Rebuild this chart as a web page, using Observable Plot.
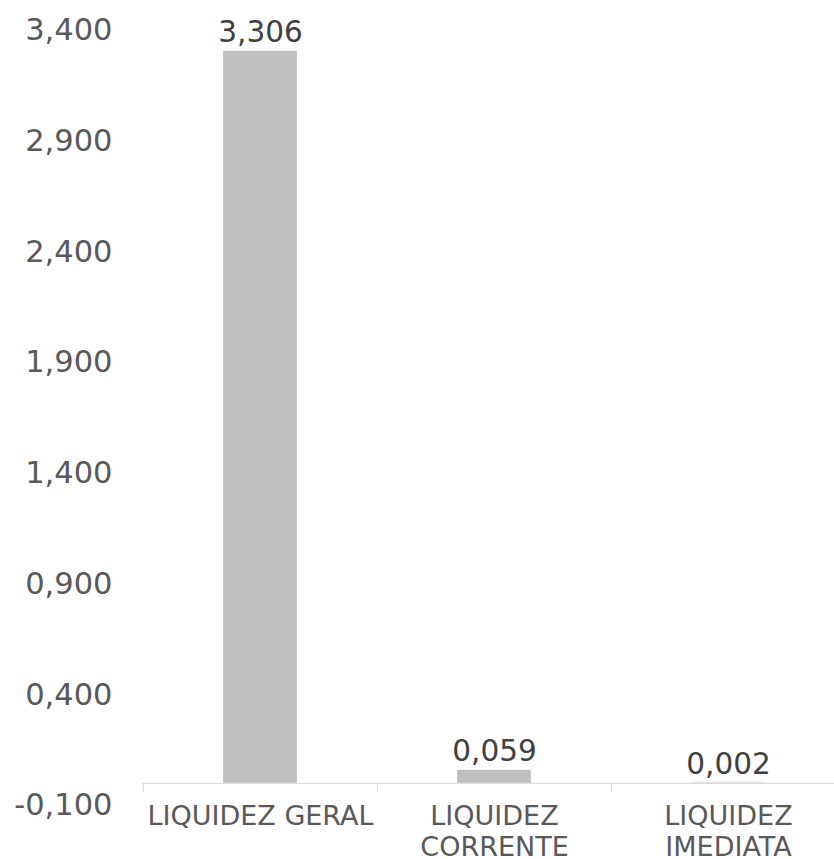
<!DOCTYPE html>
<html>
<head>
<meta charset="utf-8">
<script src="https://cdn.jsdelivr.net/npm/d3@7"></script>
<script src="https://cdn.jsdelivr.net/npm/@observablehq/plot@0.6"></script>
<style>
  html, body { margin: 0; padding: 0; background: #ffffff; }
</style>
</head>
<body>
<div id="chart"></div>
<script>
const categories = ["LIQUIDEZ GERAL", "LIQUIDEZ\nCORRENTE", "LIQUIDEZ\nIMEDIATA"];
const values = [3.306, 0.059, 0.002];
const yTicks = [-0.1, 0.4, 0.9, 1.4, 1.9, 2.4, 2.9, 3.4];

const data = categories.map((c, i) => ({cat: c, value: values[i]}));
const fmt = d3.formatLocale({decimal: ",", thousands: ".", grouping: [3], currency: ["", ""], minus: "-"}).format(".3f");

const W = 834, H = 859;
const xRange = [142, 845];
const band = (xRange[1] - xRange[0]) / categories.length;
const barW = 74;
const font = "'DejaVu Sans', sans-serif";

const chart = Plot.plot({
  width: W,
  height: H,
  marginLeft: 142,
  marginRight: 0,
  marginTop: 0,
  marginBottom: 76,
  style: {fontFamily: font, color: "#595959", background: "#ffffff"},
  x: {domain: categories, range: xRange, padding: 0, axis: null},
  y: {domain: [-0.1, 3.4], range: [805, 30], axis: null},
  marks: [
    Plot.barY(data, {x: "cat", y: "value", fill: "#bfbfbf", insetLeft: (band - barW) / 2, insetRight: (band - barW) / 2}),
    Plot.ruleY([0], {stroke: "#d9d9d9", strokeWidth: 1}),
    Plot.ruleX(categories, {x: d => d, y1: 0, y2: 0, insetBottom: -9, dx: -band / 2, stroke: "#d9d9d9", strokeWidth: 1}),
    Plot.axisY(yTicks, {tickSize: 0, tickPadding: 30, fontSize: 30.5, tickFormat: fmt, fill: "#595959", label: null}),
    Plot.text(categories, {x: d => d, frameAnchor: "bottom", lineAnchor: "top", dy: 19, fontSize: 27, lineHeight: 1.15, fill: "#595959"}),
    Plot.text(data, {x: "cat", y: "value", text: d => fmt(d.value), lineAnchor: "bottom", dy: -9, fontSize: 29.5, fill: "#404040"})
  ]
});
document.getElementById("chart").appendChild(chart);
</script>
</body>
</html>
